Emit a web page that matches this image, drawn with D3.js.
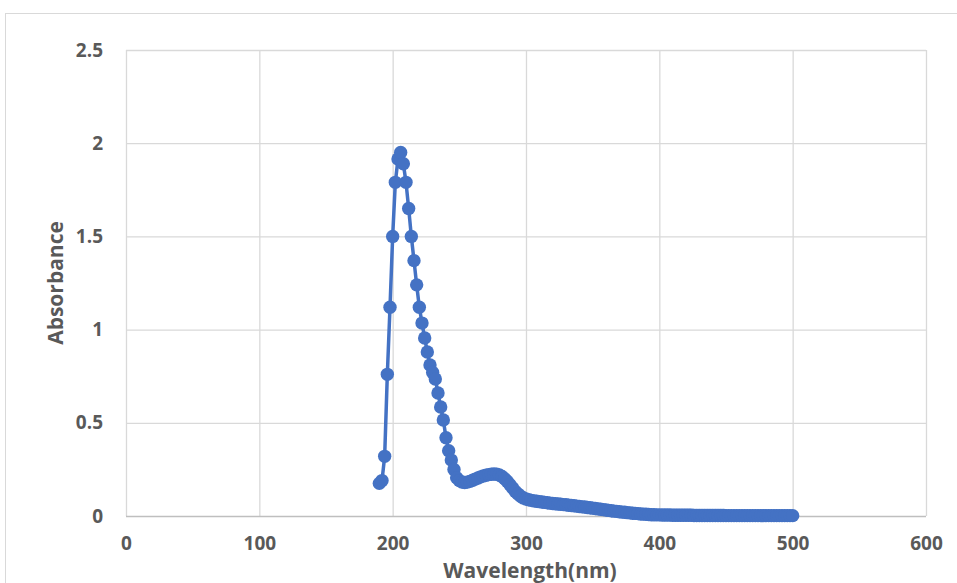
<!DOCTYPE html>
<html>
<head>
<meta charset="utf-8">
<script src="https://cdn.jsdelivr.net/npm/d3@7"></script>
<style>
   html, body { margin: 0; padding: 0; background: white; overflow: hidden; }
   text { font-family: 'Open Sans', Lato, sans-serif; font-weight: 700; fill: #595959; }
</style>
</head>
<body>
<script>

// WAVELENGTHS (NM)
var wavelength = [
   190, 192, 194, 196, 198, 200, 202, 204, 206, 208, 210, 212, 214, 216, 218, 220,
   222, 224, 226, 228, 230, 232, 234, 236, 238, 240, 242, 244, 246, 248, 250, 252,
   254, 256, 258, 260, 262, 264, 266, 268, 270, 272, 274, 276, 278, 280, 282, 284,
   286, 288, 290, 292, 294, 296, 298, 300, 302, 304, 306, 308, 310, 312, 314, 316,
   318, 320, 322, 324, 326, 328, 330, 332, 334, 336, 338, 340, 342, 344, 346, 348,
   350, 352, 354, 356, 358, 360, 362, 364, 366, 368, 370, 372, 374, 376, 378, 380,
   382, 384, 386, 388, 390, 392, 394, 396, 398, 400, 402, 404, 406, 408, 410, 412,
   414, 416, 418, 420, 422, 424, 426, 428, 430, 432, 434, 436, 438, 440, 442, 444,
   446, 448, 450, 452, 454, 456, 458, 460, 462, 464, 466, 468, 470, 472, 474, 476,
   478, 480, 482, 484, 486, 488, 490, 492, 494, 496, 498, 500
];

// ABSORBANCE READINGS
var absorbance = [
   0.175, 0.19, 0.32, 0.76, 1.12, 1.50, 1.79, 1.915, 1.95, 1.89, 1.79, 1.65, 1.50, 1.37, 1.24, 1.12,
   1.035, 0.955, 0.88, 0.81, 0.77, 0.735, 0.66, 0.585, 0.515, 0.42, 0.35, 0.30, 0.25, 0.205, 0.19, 0.182,
   0.18, 0.182, 0.186, 0.192, 0.198, 0.204, 0.21, 0.215, 0.219, 0.222, 0.224, 0.225, 0.224, 0.22, 0.212, 0.20,
   0.185, 0.168, 0.15, 0.132, 0.118, 0.106, 0.097, 0.091, 0.087, 0.084, 0.081, 0.079, 0.077, 0.075, 0.073, 0.071,
   0.069, 0.067, 0.066, 0.064, 0.063, 0.061, 0.06, 0.058, 0.056, 0.055, 0.053, 0.051, 0.049, 0.048, 0.046, 0.044,
   0.042, 0.04, 0.038, 0.036, 0.034, 0.032, 0.03, 0.028, 0.026, 0.025, 0.023, 0.021, 0.02, 0.018, 0.017, 0.015,
   0.014, 0.013, 0.011, 0.01, 0.009, 0.008, 0.007, 0.007, 0.006, 0.006, 0.005, 0.005, 0.005, 0.005, 0.004, 0.004,
   0.004, 0.004, 0.004, 0.004, 0.004, 0.004, 0.003, 0.003, 0.003, 0.003, 0.003, 0.003, 0.003, 0.003, 0.003, 0.003,
   0.003, 0.003, 0.002, 0.002, 0.002, 0.002, 0.002, 0.002, 0.002, 0.002, 0.002, 0.002, 0.002, 0.002, 0.002, 0.002,
   0.002, 0.002, 0.002, 0.002, 0.002, 0.002, 0.002, 0.002, 0.002, 0.002, 0.002, 0.002
];

// TICKS
var xTicks = [0, 100, 200, 300, 400, 500, 600];
var yTicks = [0, 0.5, 1, 1.5, 2, 2.5];
var yTickLabels = ['0', '0.5', '1', '1.5', '2', '2.5'];

// AXIS TITLES
var xTitle = 'Wavelength(nm)';
var yTitle = 'Absorbance';

// SETTINGS OBJECT
var settings = {
   width: 957,
   height: 583,
   plot: { left: 126, right: 926, top: 50, bottom: 516 },
   color: {
      series: '#4472C4',
      grid: '#d9d9d9',
      axis: '#bfbfbf',
      border: '#d9d9d9'
   },
   font: { tick: 19, title: 21 },
   radius: 6.7,
   line: 3.5
}

// GENERATE SVG CANVAS
var canvas = d3.select('body').append('svg')
   .attr('width', settings.width)
   .attr('height', settings.height)

// CHART BORDER (CROPPED AT RIGHT AND BOTTOM)
canvas.append('rect')
   .attr('x', 5.5)
   .attr('y', 13.5)
   .attr('width', 1200)
   .attr('height', 1200)
   .attr('fill', 'none')
   .attr('stroke', settings.color.border)

// SCALES
var x = d3.scaleLinear().domain([0, 600]).range([settings.plot.left, settings.plot.right]);
var y = d3.scaleLinear().domain([0, 2.5]).range([settings.plot.bottom, settings.plot.top]);

// VERTICAL GRIDLINES
canvas.append('g')
   .attr('transform', 'translate(0,' + settings.plot.bottom + ')')
   .call(d3.axisBottom(x).tickValues(xTicks).tickSize(-(settings.plot.bottom - settings.plot.top)).tickFormat(''))
   .call(g => g.select('.domain').remove())
   .call(g => g.selectAll('line').attr('stroke', settings.color.grid).attr('stroke-width', 1.3))

// HORIZONTAL GRIDLINES
canvas.append('g')
   .attr('transform', 'translate(' + settings.plot.left + ',0)')
   .call(d3.axisLeft(y).tickValues(yTicks).tickSize(-(settings.plot.right - settings.plot.left)).tickFormat(''))
   .call(g => g.select('.domain').remove())
   .call(g => g.selectAll('line').attr('stroke', d => d === 0 ? settings.color.axis : settings.color.grid).attr('stroke-width', 1.3))

// X TICK LABELS
canvas.append('g')
   .attr('transform', 'translate(0,' + settings.plot.bottom + ')')
   .call(d3.axisBottom(x).tickValues(xTicks).tickSize(0).tickPadding(21).tickFormat(d3.format('d')))
   .call(g => g.select('.domain').remove())
   .call(g => g.selectAll('text').attr('font-size', settings.font.tick).attr('font-family', null).attr('fill', null))

// Y TICK LABELS
canvas.append('g')
   .attr('transform', 'translate(' + settings.plot.left + ',0)')
   .call(d3.axisLeft(y).tickValues(yTicks).tickSize(0).tickPadding(23).tickFormat((d, i) => yTickLabels[i]))
   .call(g => g.select('.domain').remove())
   .call(g => g.selectAll('text').attr('font-size', settings.font.tick).attr('font-family', null).attr('fill', null))

// AXIS TITLES
canvas.append('text')
   .attr('x', 530)
   .attr('y', 578)
   .attr('text-anchor', 'middle')
   .attr('font-size', settings.font.title)
   .text(xTitle)

canvas.append('text')
   .attr('transform', 'translate(63,' + ((settings.plot.top + settings.plot.bottom) / 2) + ') rotate(-90)')
   .attr('text-anchor', 'middle')
   .attr('font-size', settings.font.title)
   .text(yTitle)

// SERIES DATA
var data = wavelength.map((w, i) => ({ w: w, a: absorbance[i] }));

// SERIES LINE
canvas.append('path')
   .datum(data)
   .attr('fill', 'none')
   .attr('stroke', settings.color.series)
   .attr('stroke-width', settings.line)
   .attr('stroke-linejoin', 'round')
   .attr('d', d3.line().x(d => x(d.w)).y(d => y(d.a)))

// SERIES MARKERS
canvas.append('g').selectAll('circle')
   .data(data)
   .join('circle')
   .attr('cx', d => x(d.w))
   .attr('cy', d => y(d.a))
   .attr('r', settings.radius)
   .attr('fill', settings.color.series)

</script>
</body>
</html>
